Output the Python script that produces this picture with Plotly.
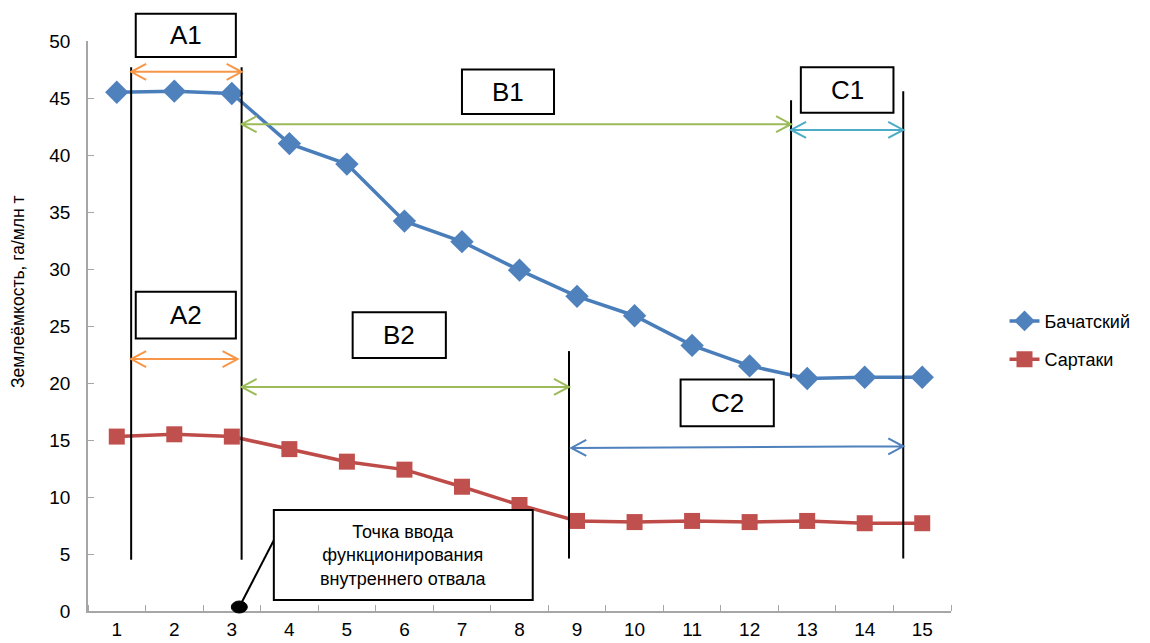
import plotly.graph_objects as go

# ---- data ----
categories = list(range(1, 16))
bachatsky = [45.5, 45.6, 45.4, 41.0, 39.2, 34.2, 32.4, 29.9, 27.6, 25.9, 23.3, 21.5, 20.4, 20.5, 20.5]
sartaki = [15.3, 15.5, 15.3, 14.2, 13.1, 12.4, 10.9, 9.3, 7.9, 7.8, 7.9, 7.8, 7.9, 7.7, 7.7]
y_ticks = [0, 5, 10, 15, 20, 25, 30, 35, 40, 45, 50]

XMIN, XMAX = 0.5, 15.5
YMIN, YMAX = 0, 50

W, H = 1150, 643
ML, MR, MT, MB = 88, 199, 41, 32
PW = W - ML - MR
PH = H - MT - MB


def px(x):
    return (x - XMIN) / (XMAX - XMIN)


def py(y):
    return (y - YMIN) / (YMAX - YMIN)


fig = go.Figure()
fig.add_trace(go.Scatter(
    x=categories, y=bachatsky, name="Бачатский", mode="lines+markers",
    line=dict(color="#4A7EBB", width=3.5),
    marker=dict(symbol="diamond", size=18, color="#4F81BD"),
    legendgroup="a", cliponaxis=False))
fig.add_trace(go.Scatter(
    x=categories, y=sartaki, name="Сартаки", mode="lines+markers",
    line=dict(color="#BE4B48", width=3.5),
    marker=dict(symbol="square", size=16, color="#C0504D"),
    legendgroup="b", cliponaxis=False))

shapes = []
annotations = []

# vertical separators (data units)
vlines = [(1.25, 4.5, 47.7), (3.17, 4.5, 47.7), (12.72, 20.4, 44.8),
          (14.67, 4.6, 45.6), (8.86, 4.6, 22.8)]
for x, y0, y1 in vlines:
    shapes.append(dict(type="line", xref="paper", yref="paper",
                       x0=px(x), x1=px(x), y0=py(y0), y1=py(y1),
                       line=dict(color="black", width=2)))

# double-headed arrows
ax_len = 15 / PW
ay_h = 8 / PH
arrows = [
    (1.25, 3.17, 47.3, 47.3, "#F79646"),
    (3.17, 12.72, 42.7, 42.7, "#9BBB59"),
    (12.72, 14.67, 42.2, 42.2, "#4BACC6"),
    (1.25, 3.10, 22.1, 22.1, "#F79646"),
    (3.17, 8.86, 19.65, 19.65, "#9BBB59"),
    (8.90, 14.67, 14.3, 14.45, "#4F81BD"),
]
for x0, x1, y0, y1, c in arrows:
    X0, X1, Y0, Y1 = px(x0), px(x1), py(y0), py(y1)
    path = (f"M{X0},{Y0} L{X1},{Y1} "
            f"M{X0+ax_len},{Y0+ay_h} L{X0},{Y0} L{X0+ax_len},{Y0-ay_h} "
            f"M{X1-ax_len},{Y1+ay_h} L{X1},{Y1} L{X1-ax_len},{Y1-ay_h}")
    shapes.append(dict(type="path", xref="paper", yref="paper", path=path,
                       line=dict(color=c, width=2)))

# labelled boxes
boxes = [
    ("A1", 1.33, 3.07, 48.6, 52.4),
    ("B1", 7.0, 8.6, 43.6, 47.5),
    ("C1", 12.89, 14.5, 43.7, 47.7),
    ("A2", 1.33, 3.07, 23.9, 28.0),
    ("B2", 5.1, 6.72, 22.2, 26.2),
    ("C2", 10.8, 12.42, 16.2, 20.3),
]
for label, x0, x1, y0, y1 in boxes:
    shapes.append(dict(type="rect", xref="paper", yref="paper",
                       x0=px(x0), x1=px(x1), y0=py(y0), y1=py(y1),
                       line=dict(color="black", width=2), fillcolor="white"))
    annotations.append(dict(xref="paper", yref="paper",
                            x=(px(x0) + px(x1)) / 2, y=(py(y0) + py(y1)) / 2,
                            text=label, showarrow=False,
                            font=dict(family="Liberation Sans, Arial", size=26, color="black"),
                            xanchor="center", yanchor="middle"))

# callout
tb = (3.73, 8.23, 0.96, 8.86)
dot = (3.13, 0.35)
shapes.append(dict(type="line", xref="paper", yref="paper",
                   x0=px(dot[0]), y0=py(dot[1]), x1=px(tb[0]), y1=py(6.2),
                   line=dict(color="black", width=2)))
shapes.append(dict(type="rect", xref="paper", yref="paper",
                   x0=px(tb[0]), x1=px(tb[1]), y0=py(tb[2]), y1=py(tb[3]),
                   line=dict(color="black", width=2), fillcolor="white"))
shapes.append(dict(type="circle", xref="paper", yref="paper",
                   x0=px(dot[0]) - 8 / PW, x1=px(dot[0]) + 8 / PW,
                   y0=py(dot[1]) - 6 / PH, y1=py(dot[1]) + 6 / PH,
                   line=dict(color="black", width=1), fillcolor="black"))
annotations.append(dict(xref="paper", yref="paper",
                        x=(px(tb[0]) + px(tb[1])) / 2, y=(py(tb[2]) + py(tb[3])) / 2,
                        text="Точка ввода<br>функционирования<br>внутреннего отвала",
                        showarrow=False, align="center",
                        font=dict(family="Liberation Sans, Arial", size=18, color="black"),
                        xanchor="center", yanchor="middle"))

# y axis title
annotations.append(dict(xref="paper", yref="paper",
                        x=(18 - ML) / PW, y=(H - MB - 292) / PH,
                        text="Землеёмкость, га/млн т", textangle=-90, showarrow=False,
                        font=dict(family="Liberation Sans, Arial", size=17.5, color="black"),
                        xanchor="center", yanchor="middle"))

fig.update_layout(
    width=W, height=H,
    margin=dict(l=ML, r=MR, t=MT, b=MB, pad=0, autoexpand=False),
    plot_bgcolor="white", paper_bgcolor="white",
    font=dict(family="Liberation Sans, Arial", color="black"),
    shapes=shapes, annotations=annotations,
    legend=dict(x=1.062, y=0.475, xanchor="left", yanchor="middle",
                font=dict(size=18, color="black"), tracegroupgap=12,
                bgcolor="rgba(0,0,0,0)"),
    xaxis=dict(range=[XMIN, XMAX], tickmode="array", tickvals=categories,
               ticktext=[str(c) for c in categories], ticks="", showgrid=False,
               showline=True, linecolor="#A6A6A6", linewidth=1.5, zeroline=False,
               tickfont=dict(size=19, color="black"), automargin=False,
               minor=dict(tickmode="array", tickvals=[c + 0.5 for c in [0] + categories],
                          ticks="inside", ticklen=6, tickcolor="#A6A6A6", showgrid=False)),
    yaxis=dict(range=[YMIN, YMAX], tickmode="array", tickvals=y_ticks,
               ticks="inside", ticklen=6, tickcolor="#A6A6A6", showgrid=False,
               showline=True, linecolor="#A6A6A6", linewidth=1.5, zeroline=False,
               automargin=False,
               tickfont=dict(size=19, color="black"), ticklabelstandoff=12),
)

fig.write_html("out.html")
